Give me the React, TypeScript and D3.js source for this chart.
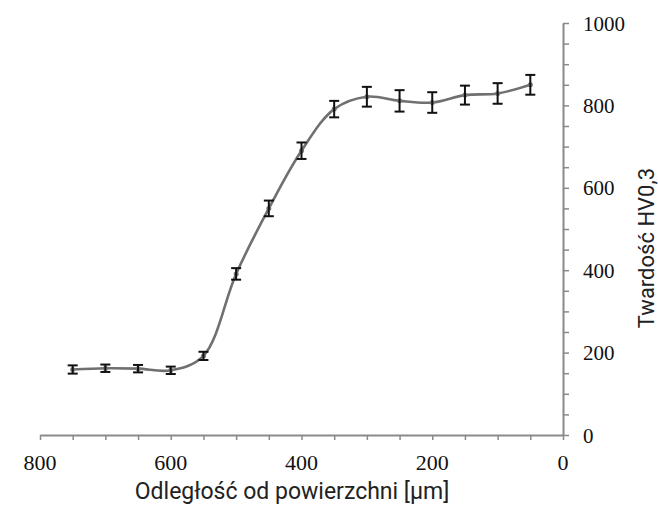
import React, { useEffect, useRef } from 'react';
import * as d3 from 'd3';

// distance from surface [µm]
const depths = [750, 700, 650, 600, 550, 500, 450, 400, 350, 300, 250, 200, 150, 100, 50];
// hardness HV0.3
const hardness = [159, 162, 161, 157, 192, 391, 550, 690, 791, 821, 811, 807, 825, 829, 850];
const errors = [10, 9, 9, 9, 10, 14, 19, 20, 20, 24, 26, 25, 23, 25, 24];

const xTicks = d3.range(0, 801, 50);
const yTicks = d3.range(0, 1001, 50);
const xLabels = [800, 600, 400, 200, 0];
const yLabels = [0, 200, 400, 600, 800, 1000];

const xTitle = 'Odległość od powierzchni [µm]';
const yTitle = 'Twardość HV0,3';

const W = 658;
const H = 518;
const SERIF = 'Liberation Serif';

export default function App() {
  const ref = useRef<SVGSVGElement>(null);

  useEffect(() => {
    const svg = d3.select(ref.current);
    svg.selectAll('*').remove();

    const x = d3.scaleLinear().domain([800, 0]).range([40, 563]);
    const y = d3.scaleLinear().domain([0, 1000]).range([435, 23]);

    const data = depths.map((d, i) => ({ d, v: hardness[i], e: errors[i] }));

    // x axis (ticks only, labels below)
    const gx = svg.append('g')
      .attr('transform', `translate(0,${y(0)})`)
      .call(d3.axisBottom(x).tickValues(xTicks).tickSize(5).tickSizeOuter(0).tickFormat(() => ''));
    gx.select('.domain').attr('stroke', '#8a8a8a').attr('stroke-width', 2);
    gx.selectAll('.tick line').attr('stroke', '#8a8a8a').attr('stroke-width', 1.5);

    svg.append('g')
      .selectAll('text')
      .data(xLabels)
      .join('text')
      .attr('x', d => x(d))
      .attr('y', 470)
      .attr('text-anchor', 'middle')
      .attr('fill', '#111')
      .attr('font-family', SERIF)
      .attr('font-size', 22)
      .text(d => d);

    // y axis on the right
    const gy = svg.append('g')
      .attr('transform', `translate(${x(0)},0)`)
      .call(d3.axisRight(y).tickValues(yTicks).tickSize(6).tickSizeOuter(0).tickFormat(() => ''));
    gy.select('.domain').attr('stroke', '#8a8a8a').attr('stroke-width', 2);
    gy.selectAll('.tick line').attr('stroke', '#8a8a8a').attr('stroke-width', 1.5);

    svg.append('g')
      .selectAll('text')
      .data(yLabels)
      .join('text')
      .attr('x', 583)
      .attr('y', d => y(d) + 7.5)
      .attr('fill', '#111')
      .attr('font-family', SERIF)
      .attr('font-size', 21)
      .text(d => d);

    // smoothed line
    const line = d3.line<any>()
      .x(p => x(p.d))
      .y(p => y(p.v))
      .curve(d3.curveCatmullRom.alpha(0.5));
    svg.append('path')
      .datum(data)
      .attr('d', line)
      .attr('fill', 'none')
      .attr('stroke', '#707070')
      .attr('stroke-width', 2.6);

    // markers
    svg.selectAll('circle.pt')
      .data(data)
      .join('circle')
      .attr('class', 'pt')
      .attr('cx', p => x(p.d))
      .attr('cy', p => y(p.v))
      .attr('r', 2.5)
      .attr('fill', '#777');

    // error bars
    const eb = svg.append('g').attr('stroke', '#111').attr('stroke-width', 2);
    data.forEach(p => {
      const cx = x(p.d);
      const t = y(p.v + p.e);
      const b = y(p.v - p.e);
      eb.append('line').attr('x1', cx).attr('x2', cx).attr('y1', t).attr('y2', b);
      eb.append('line').attr('x1', cx - 5).attr('x2', cx + 5).attr('y1', t).attr('y2', t);
      eb.append('line').attr('x1', cx - 5).attr('x2', cx + 5).attr('y1', b).attr('y2', b);
    });

    // axis titles
    svg.append('text')
      .attr('x', 292)
      .attr('y', 499)
      .attr('text-anchor', 'middle')
      .attr('fill', '#222')
      .attr('font-family', 'Roboto')
      .attr('font-size', 23)
      .text(xTitle);

    svg.append('text')
      .attr('transform', `translate(654,248) rotate(-90)`)
      .attr('text-anchor', 'middle')
      .attr('fill', '#222')
      .attr('font-family', 'Roboto')
      .attr('font-size', 22)
      .text(yTitle);
  }, []);

  return (
    <svg
      ref={ref}
      width={W}
      height={H}
      style={{ position: 'absolute', left: 0, top: 0, background: '#fff', display: 'block' }}
    />
  );
}
